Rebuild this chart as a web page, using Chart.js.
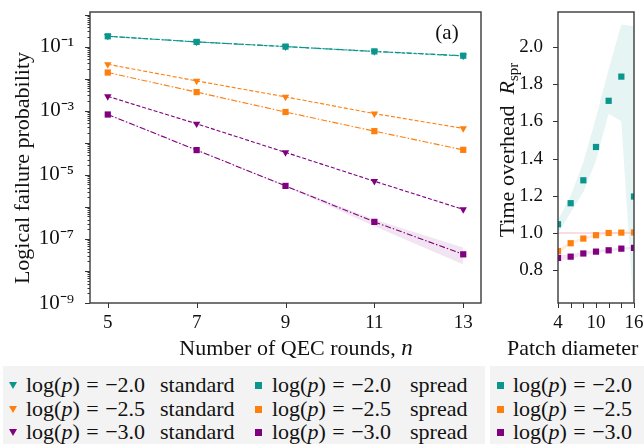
<!DOCTYPE html>
<html>
<head>
<meta charset="utf-8">
<script src="https://cdn.jsdelivr.net/npm/chart.js@4.4.1/dist/chart.umd.min.js"></script>
<style>
  body { margin: 0; background: #fff; width: 644px; height: 444px; overflow: hidden; position: relative; font-family: "Liberation Serif", serif; color: #111; }
  canvas { position: absolute; top: 0; }
  #failureChart { left: 0; }
  #overheadChart { left: 490px; }
  .legend-box { position: absolute; top: 366px; height: 90px; background: #f3f3f3; }
  .item { position: absolute; height: 24px; line-height: 24px; font-size: 22px; white-space: nowrap; word-spacing: 1px; }
  .tri { position: absolute; width: 0; height: 0; border-left: 4px solid transparent; border-right: 4px solid transparent; border-top: 7px solid; }
  .sq { position: absolute; width: 7px; height: 7px; }
</style>
</head>
<body>
<canvas id="failureChart" width="490" height="362"></canvas>
<canvas id="overheadChart" width="154" height="362"></canvas>
<div class="legend-box" id="legendMain" style="left:3px;width:482px"></div>
<div class="legend-box" id="legendSide" style="left:490px;width:160px"></div>
<script>
// ---- data ----
const rounds = [5, 7, 9, 11, 13];
const logP = [-2.0, -2.5, -3.0];
const colors = ['#0a968d', '#ff7f0e', '#800080'];

const standardTeal = [0.21, 0.14, 0.10, 0.070, 0.051];
const standardOrange = [0.028, 0.0085, 0.0027, 0.00081, 0.00028];
const standardPurple = [0.0028, 0.00039, 5.0e-5, 6.3e-6, 8.3e-7];

const spreadTeal = [0.21, 0.14, 0.10, 0.071, 0.052];
const spreadOrange = [0.0155, 0.0038, 0.00091, 0.00023, 6.0e-5];
const spreadPurple = [7.6e-4, 5.9e-5, 4.5e-6, 3.4e-7, 3.3e-8];
const spreadPurpleLow = [7.4e-4, 5.7e-5, 4.3e-6, 2.5e-7, 1.6e-8];
const spreadPurpleHigh = [7.8e-4, 6.1e-5, 4.7e-6, 4.0e-7, 5.4e-8];

const diameters = [4, 6, 8, 10, 12, 14, 16];
const overheadTeal = [1.047, 1.16, 1.283, 1.462, 1.71, 1.84, 1.196];
const overheadTealLow = [1.0, 1.11, 1.22, 1.39, 1.64, 1.60, 0.55];
const overheadTealHigh = [1.07, 1.20, 1.38, 1.62, 1.88, 2.12, 2.11];
const overheadOrange = [0.903, 0.945, 0.97, 0.988, 1.0, 1.002, 1.003];
const overheadOrangeLow = [0.893, 0.937, 0.963, 0.982, 0.995, 0.997, 0.998];
const overheadOrangeHigh = [0.913, 0.953, 0.977, 0.994, 1.005, 1.007, 1.008];
const overheadPurple = [0.866, 0.873, 0.89, 0.90, 0.907, 0.916, 0.92];
const overheadPurpleLow = [0.852, 0.861, 0.88, 0.892, 0.9, 0.91, 0.914];
const overheadPurpleHigh = [0.88, 0.885, 0.9, 0.908, 0.914, 0.922, 0.926];
const overheadReference = 1.0;

// tick labels
const roundTicks = [5, 7, 9, 11, 13];
const failureLabelled = [1e-1, 1e-3, 1e-5, 1e-7, 1e-9];
const diameterTicks = [4, 6, 8, 10, 12, 14, 16];
const diameterLabelled = [4, 10, 16];
const overheadTicks = [0.8, 1.0, 1.2, 1.4, 1.6, 1.8, 2.0];

// ---- helpers ----
const serif = '"Liberation Serif", serif';
const tickFont = { family: serif, size: 19 };
const sup = { '-': '⁻', '0': '⁰', '1': '¹', '2': '²', '3': '³', '4': '⁴', '5': '⁵', '6': '⁶', '7': '⁷', '8': '⁸', '9': '⁹' };

function powerLabel(v) {
  const e = Math.round(Math.log10(v));
  return '10' + String(e).split('').map(c => sup[c]).join('');
}

function pts(xs, ys) {
  return xs.map((x, i) => ({ x: x, y: ys[i] }));
}

function pLabel(v) {
  return 'log(<i>p</i>) = ' + (v < 0 ? '−' : '') + Math.abs(v).toFixed(1);
}

// fixed axis sizes so the plot frames land where the figure has them
function fixWidth(w) {
  return s => { s.width = w; s.paddingTop = 0; s.paddingBottom = 0; };
}
function fixHeight(h) {
  return s => { s.height = h; s.paddingLeft = 0; s.paddingRight = 0; };
}

// draws mixed-style text centred on (x, y); rotated when vertical
function drawParts(ctx, parts, x, y, vertical, align) {
  ctx.save();
  ctx.translate(x, y);
  if (vertical) ctx.rotate(-Math.PI / 2);
  let total = 0;
  parts.forEach(p => { ctx.font = p.font; total += ctx.measureText(p.t).width; });
  let cx = align === 'left' ? 0 : -total / 2;
  ctx.fillStyle = '#111';
  ctx.textBaseline = 'alphabetic';
  parts.forEach(p => {
    ctx.font = p.font;
    ctx.fillText(p.t, cx, p.dy || 0);
    cx += ctx.measureText(p.t).width;
  });
  ctx.restore();
}

// frame, tick marks and titles
const decorations = {
  id: 'decorations',
  afterDraw(chart, args, opts) {
    const ctx = chart.ctx, a = chart.chartArea;
    ctx.save();
    ctx.strokeStyle = '#333';
    ctx.lineWidth = 1;
    ['x', 'y'].forEach(id => {
      const s = chart.scales[id];
      s.ticks.forEach(t => {
        const p = Math.round(s.getPixelForValue(t.value)) + 0.5;
        const len = t.major ? 5 : 2.5;
        ctx.beginPath();
        if (id === 'x') { ctx.moveTo(p, a.bottom); ctx.lineTo(p, a.bottom + len); }
        else { ctx.moveTo(a.left, p); ctx.lineTo(a.left - len, p); }
        ctx.stroke();
      });
    });
    ctx.lineWidth = 1.4;
    ctx.strokeStyle = '#3a3a3a';
    ctx.strokeRect(a.left, a.top, a.right - a.left, a.bottom - a.top);
    ctx.restore();
    (opts.titles || []).forEach(tt => drawParts(ctx, tt.parts, tt.x, tt.y, tt.vertical, tt.align));
  }
};

// ---- left panel: logical failure probability ----
const lineBase = { borderWidth: 1.1, pointRadius: 4.2, pointBorderWidth: 0, fill: false, tension: 0, clip: 0 };
const standardDash = [4, 2];
const spreadDash = [6, 2, 1.5, 2];

function standardSet(values, color) {
  return Object.assign({}, lineBase, {
    data: pts(rounds, values), borderColor: color, backgroundColor: color,
    borderDash: standardDash, pointStyle: 'triangle', pointRotation: 180, pointRadius: 4.3
  });
}
function spreadSet(values, color) {
  return Object.assign({}, lineBase, {
    data: pts(rounds, values), borderColor: color, backgroundColor: color,
    borderDash: spreadDash, pointStyle: 'rect', pointRadius: 4.4
  });
}

new Chart(document.getElementById('failureChart'), {
  type: 'line',
  data: {
    datasets: [
      spreadSet(spreadTeal, colors[0]),
      standardSet(standardTeal, colors[0]),
      spreadSet(spreadOrange, colors[1]),
      standardSet(standardOrange, colors[1]),
      spreadSet(spreadPurple, colors[2]),
      standardSet(standardPurple, colors[2]),
      { data: pts(rounds, spreadPurpleLow), borderWidth: 0, pointRadius: 0, fill: false, clip: 0 },
      { data: pts(rounds, spreadPurpleHigh), borderWidth: 0, pointRadius: 0, fill: '-1', backgroundColor: 'rgba(128,0,128,0.1)', clip: 0 }
    ]
  },
  options: {
    responsive: false,
    animation: false,
    layout: { padding: { left: 0, top: 12, right: 9, bottom: 0 } },
    plugins: {
      legend: { display: false },
      tooltip: { enabled: false },
      decorations: {
        titles: [
          { parts: [{ t: 'Number of QEC rounds, ', font: '22px ' + serif }, { t: 'n', font: 'italic 23px ' + serif }], x: 296, y: 355 },
          { parts: [{ t: 'Logical failure probability', font: '22px ' + serif }], x: 29, y: 168, vertical: true },
          { parts: [{ t: '(a)', font: '21px ' + serif }], x: 447, y: 39 }
        ]
      }
    },
    scales: {
      x: {
        type: 'linear', min: 4.6, max: 13.4,
        afterBuildTicks: s => { s.ticks = roundTicks.map(v => ({ value: v, major: true })); },
        afterFit: fixHeight(59),
        grid: { display: false }, border: { display: false },
        ticks: { autoSkip: false, maxRotation: 0, padding: 1, color: '#111', font: tickFont }
      },
      y: {
        type: 'logarithmic', min: 1e-9, max: 1.2,
        afterBuildTicks: s => {
          const t = [];
          for (let e = -9; e <= 0; e++) {
            t.push({ value: Math.pow(10, e), major: true });
            if (e < 0) for (let d = 2; d <= 9; d++) t.push({ value: d * Math.pow(10, e), major: false });
          }
          s.ticks = t;
        },
        afterFit: fixWidth(90),
        grid: { display: false }, border: { display: false },
        ticks: {
          autoSkip: false, padding: 8, color: '#111', font: { family: serif, size: 21 },
          callback: v => failureLabelled.some(l => Math.abs(l - v) / l < 1e-6) ? powerLabel(v) : ''
        }
      }
    }
  },
  plugins: [decorations]
});

// ---- right panel: time overhead ----
function pointSet(values, color) {
  return { data: pts(diameters, values), showLine: false, pointStyle: 'rect', pointRadius: 4.4, pointBorderWidth: 0, backgroundColor: color, borderColor: color, clip: 0 };
}
function bandSets(low, high, fillColor) {
  return [
    { data: pts(diameters, low), borderWidth: 0, pointRadius: 0, fill: false, clip: 0, order: 5 },
    { data: pts(diameters, high), borderWidth: 0, pointRadius: 0, fill: '-1', backgroundColor: fillColor, clip: 0, order: 5 }
  ];
}

new Chart(document.getElementById('overheadChart'), {
  type: 'line',
  data: {
    datasets: [
      pointSet(overheadTeal, colors[0]),
      pointSet(overheadOrange, colors[1]),
      pointSet(overheadPurple, colors[2]),
      { data: pts([diameters[0], diameters[diameters.length - 1]], [overheadReference, overheadReference]), borderColor: '#f6bcc6', borderWidth: 1.2, pointRadius: 0, clip: 0, order: 4 },
      ...bandSets(overheadTealLow, overheadTealHigh, 'rgba(10,150,141,0.1)'),
      ...bandSets(overheadOrangeLow, overheadOrangeHigh, 'rgba(255,127,14,0.15)'),
      ...bandSets(overheadPurpleLow, overheadPurpleHigh, 'rgba(128,0,128,0.1)')
    ]
  },
  options: {
    responsive: false,
    animation: false,
    layout: { padding: { left: 0, top: 12, right: 10, bottom: 0 } },
    plugins: {
      legend: { display: false },
      tooltip: { enabled: false },
      decorations: {
        titles: [
          { parts: [{ t: 'Patch diameter', font: '22px ' + serif }], x: 17, y: 355, align: 'left' },
          { parts: [{ t: 'Time overhead  ', font: '22px ' + serif }, { t: 'R', font: 'italic 22px ' + serif }, { t: 'spr', font: '15px ' + serif, dy: 4 }], x: 24, y: 150, vertical: true }
        ]
      }
    },
    scales: {
      x: {
        type: 'linear', min: 4, max: 16,
        afterBuildTicks: s => { s.ticks = diameterTicks.map(v => ({ value: v, major: true })); },
        afterFit: fixHeight(59),
        grid: { display: false }, border: { display: false },
        ticks: { autoSkip: false, maxRotation: 0, padding: 1, color: '#111', font: tickFont,
          callback: v => diameterLabelled.includes(v) ? String(v) : '' }
      },
      y: {
        type: 'linear', min: 0.624, max: 2.187,
        afterBuildTicks: s => { s.ticks = overheadTicks.map(v => ({ value: v, major: true })); },
        afterFit: fixWidth(68),
        grid: { display: false }, border: { display: false },
        ticks: { autoSkip: false, padding: 7, color: '#111', font: tickFont, callback: v => v.toFixed(1) }
      }
    }
  },
  plugins: [decorations]
});

// ---- legends ----
function addItem(box, boxLeft, markerX, textX, wordX, color, marker, html, word, row) {
  const top = 7 + row * 23.5;
  const m = document.createElement('div');
  m.className = marker === 'tri' ? 'tri' : 'sq';
  if (marker === 'tri') { m.style.borderTopColor = color; m.style.left = (markerX - boxLeft - 4) + 'px'; }
  else { m.style.background = color; m.style.left = (markerX - boxLeft - 3.5) + 'px'; }
  m.style.top = (top + 9) + 'px';
  box.appendChild(m);
  const t = document.createElement('div');
  t.className = 'item';
  t.style.left = (textX - boxLeft) + 'px';
  t.style.top = top + 'px';
  t.innerHTML = html;
  box.appendChild(t);
  if (word) {
    const w = document.createElement('div');
    w.className = 'item';
    w.style.left = (wordX - boxLeft) + 'px';
    w.style.top = top + 'px';
    w.textContent = word;
    box.appendChild(w);
  }
}

const legendMain = document.getElementById('legendMain');
const legendSide = document.getElementById('legendSide');
logP.forEach((v, i) => {
  addItem(legendMain, 3, 13, 26, 160, colors[i], 'tri', pLabel(v), 'standard', i);
  addItem(legendMain, 3, 258, 272, 410, colors[i], 'sq', pLabel(v), 'spread', i);
  addItem(legendSide, 490, 500, 513, 0, colors[i], 'sq', pLabel(v), '', i);
});
</script>
</body>
</html>
